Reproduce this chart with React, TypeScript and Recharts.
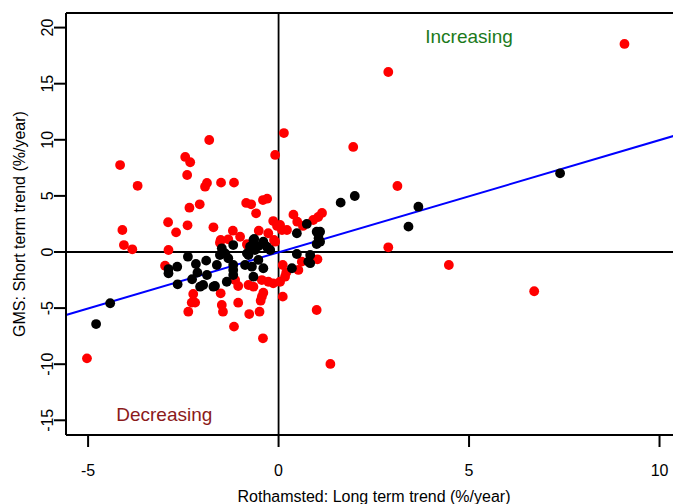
import React from 'react';
import { ScatterChart, Scatter, XAxis, YAxis, ReferenceLine, ReferenceDot } from 'recharts';

// Long term trend (x) vs short term trend (y), %/year
const redPoints: [number, number][] = [
  [9.08, 18.54], [2.88, 16.04], [0.14, 10.6], [-1.82, 9.98], [-0.09, 8.65], [1.96, 9.36],
  [-4.16, 7.75], [-2.45, 8.47], [-2.32, 8.0], [-2.4, 6.86], [-3.7, 5.9], [-1.88, 6.15],
  [-1.93, 5.82], [-1.51, 6.18], [-1.17, 6.18], [-2.34, 3.95], [-2.07, 4.25], [-0.85, 4.37],
  [-0.72, 4.25], [-0.41, 4.63], [-0.3, 4.75], [-0.59, 3.45], [0.39, 3.33], [0.49, 2.7],
  [0.64, 2.32], [0.91, 2.85], [1.04, 3.12], [1.14, 3.48], [-2.9, 2.65], [-2.69, 1.75],
  [-2.39, 2.38], [-1.71, 2.2], [-0.14, 2.76], [-0.04, 2.32], [0.09, 1.96], [0.22, 1.96],
  [-4.1, 1.96], [-4.06, 0.62], [-3.84, 0.24], [-2.89, 0.18], [-1.52, 1.07], [-1.2, 1.9],
  [-1.01, 1.36], [-0.82, 0.62], [-0.52, 1.9], [-0.27, 1.67], [-0.12, 1.07], [3.12, 5.88],
  [2.88, 0.42], [4.47, -1.16], [6.71, -3.5], [1.36, -9.98], [1.0, -5.17], [0.11, -3.98],
  [-5.03, -9.48], [-2.98, -1.22], [-2.24, -3.74], [-2.28, -4.51], [-2.19, -4.51], [-2.37, -5.32],
  [-1.14, -2.5], [-1.06, -3.03], [-0.79, -2.94], [-0.66, -3.09], [-0.44, -2.5], [-0.27, -2.65],
  [-0.14, -2.79], [0.04, -2.65], [0.17, -2.2], [0.2, -1.84], [0.11, -1.16], [-1.52, -3.68],
  [-1.49, -4.72], [-1.46, -5.32], [-1.06, -4.52], [-0.44, -3.98], [-0.4, -3.63], [-0.47, -4.34],
  [-0.77, -5.53], [-0.5, -5.32], [-1.17, -6.65], [-0.41, -7.69], [0.61, -0.86], [0.52, -1.6],
  [1.02, -0.65], [-1.32, 1.13], [0.04, 2.41], [-0.09, 0.92], [-1.54, 0.83], [-0.83, 0.71],
];

const blackPoints: [number, number][] = [
  [7.39, 7.01], [1.63, 4.4], [2.0, 4.99], [3.67, 4.04], [3.41, 2.26], [1.09, 1.81],
  [1.09, 0.92], [-4.79, -6.42], [-4.42, -4.57], [-2.38, -0.42], [-2.17, -1.07], [-1.9, -0.77],
  [-2.89, -1.52], [-2.89, -1.9], [-2.66, -1.31], [-2.65, -2.88], [-2.27, -2.43], [-2.13, -1.84],
  [-2.06, -3.09], [-1.98, -2.94], [-1.54, -0.27], [-1.4, -0.12], [-1.62, -1.16], [-1.32, -0.56],
  [-1.19, -1.16], [-0.79, -0.27], [-0.88, -1.16], [-0.7, -1.31], [-0.53, -0.71], [-1.19, -2.05],
  [-0.66, -2.2], [-1.36, -2.65], [-1.71, -3.09], [0.48, -0.18], [0.35, -1.45], [0.83, -0.27],
  [0.78, -0.86], [0.74, 2.5], [0.48, 1.67], [1.0, 1.81], [1.05, 1.22], [1.0, 0.71],
  [-0.66, 1.07], [-0.4, 0.92], [-0.53, 0.53], [-0.31, 0.47], [-0.22, 0.18], [-1.19, 0.62],
  [-1.49, 0.33], [-0.75, 0.47], [-0.62, 0.18], [-0.83, -0.12], [-0.64, 1.16], [-0.4, -1.45],
  [-1.88, -2.05], [-1.19, -1.6], [-1.67, -3.03], [0.83, -1.0],
];

const xTicks = [-5, 0, 5, 10];
const yTicks = [-15, -10, -5, 0, 5, 10, 15, 20];
const xDomain: [number, number] = [-5.58, 10.59];
const yDomain: [number, number] = [-16.31, 21.3];
const regSlope = 1.0;
const regIntercept = -0.03;

const xTitle = 'Rothamsted: Long term trend (%/year)';
const yTitle = 'GMS: Short term trend (%/year)';
const upLabel = 'Increasing';
const downLabel = 'Decreasing';

const FONT = '"Liberation Sans", Arial, sans-serif';

const redData = redPoints.map(([x, y]) => ({ x, y }));
const blackData = blackPoints.map(([x, y]) => ({ x, y }));

const XTick = (p: any) => (
  <text x={p.x} y={p.y + 29} textAnchor="middle" fontSize={16} fontFamily={FONT} fill="#000">
    {p.payload.value}
  </text>
);

const YTick = (p: any) => {
  const bx = p.x - 1;
  return (
    <text
      x={bx}
      y={p.y}
      textAnchor="middle"
      fontSize={16}
      fontFamily={FONT}
      fill="#000"
      transform={`rotate(-90, ${bx}, ${p.y})`}
    >
      {p.payload.value}
    </text>
  );
};

const dot = (color: string) => (p: any) => <circle cx={p.cx} cy={p.cy} r={4.9} fill={color} />;

const textShape = (label: string, color: string) => (p: any) => (
  <text x={p.cx} y={p.cy} textAnchor="middle" fontSize={19} fontFamily={FONT} fill={color}>
    {label}
  </text>
);

export default function App() {
  return (
    <div
      style={{
        position: 'absolute',
        left: 0,
        top: 0,
        width: 673,
        height: 504,
        overflow: 'hidden',
        background: '#fff',
      }}
    >
      <ScatterChart width={700} height={504} margin={{ top: 13, right: 18, left: 0, bottom: 0 }}>
        <XAxis
          type="number"
          dataKey="x"
          domain={xDomain}
          allowDataOverflow
          ticks={xTicks}
          interval={0}
          height={69}
          tickSize={12}
          tickMargin={0}
          tick={<XTick />}
          axisLine={{ stroke: '#000', strokeWidth: 2 }}
          tickLine={{ stroke: '#000', strokeWidth: 2 }}
          label={{
            value: xTitle,
            content: (lp: any) => {
              const vb = lp.viewBox;
              return (
                <text
                  x={vb.x + vb.width / 2}
                  y={502}
                  textAnchor="middle"
                  fontSize={16}
                  fontFamily={FONT}
                  fill="#000"
                >
                  {xTitle}
                </text>
              );
            },
          }}
        />
        <YAxis
          type="number"
          dataKey="y"
          domain={yDomain}
          allowDataOverflow
          ticks={yTicks}
          interval={0}
          width={66}
          tickSize={12}
          tickMargin={0}
          tick={<YTick />}
          axisLine={{ stroke: '#000', strokeWidth: 2 }}
          tickLine={{ stroke: '#000', strokeWidth: 2 }}
          label={{
            value: yTitle,
            content: (lp: any) => {
              const vb = lp.viewBox;
              const cy = vb.y + vb.height / 2;
              return (
                <text
                  x={25}
                  y={cy}
                  textAnchor="middle"
                  fontSize={16}
                  fontFamily={FONT}
                  fill="#000"
                  transform={`rotate(-90, 25, ${cy})`}
                >
                  {yTitle}
                </text>
              );
            },
          }}
        />
        <ReferenceLine y={yDomain[1]} stroke="#000" strokeWidth={2} />
        <ReferenceLine x={xDomain[1]} stroke="#000" strokeWidth={2} />
        <ReferenceLine y={0} stroke="#000" strokeWidth={1.8} />
        <ReferenceLine x={0} stroke="#000" strokeWidth={1.8} />
        <Scatter data={redData} fill="#ff0000" shape={dot('#ff0000')} isAnimationActive={false} />
        <Scatter data={blackData} fill="#000" shape={dot('#000')} isAnimationActive={false} />
        <ReferenceLine
          segment={[
            { x: xDomain[0], y: regIntercept + regSlope * xDomain[0] },
            { x: xDomain[1], y: regIntercept + regSlope * xDomain[1] },
          ]}
          stroke="#0000ff"
          strokeWidth={2}
        />
        <ReferenceDot x={5} y={18.6} r={0} shape={textShape(upLabel, '#1b7a1b')} />
        <ReferenceDot x={-3} y={-15.1} r={0} shape={textShape(downLabel, '#8b1a1a')} />
      </ScatterChart>
    </div>
  );
}
